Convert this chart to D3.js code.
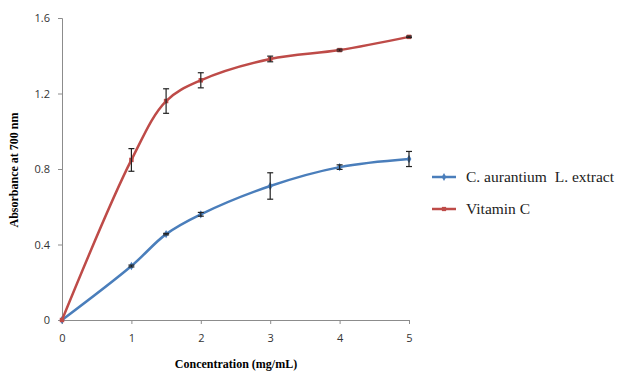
<!DOCTYPE html>
<html>
<head>
<meta charset="utf-8">
<script src="https://cdn.jsdelivr.net/npm/d3@7"></script>
<style>
  body { margin: 0; background: #fff; }
  svg { display: block; }
</style>
</head>
<body>
<svg id="chart" width="618" height="374"></svg>
<script>
// data
const concentrations = [0, 1, 1.5, 2, 3, 4, 5];
const extractValues = [0, 0.286, 0.455, 0.56, 0.71, 0.81, 0.853];
const extractErrors = [0, 0.005, 0.004, 0.01, 0.07, 0.012, 0.04];
const vitaminValues = [0, 0.848, 1.16, 1.27, 1.383, 1.43, 1.5];
const vitaminErrors = [0, 0.06, 0.065, 0.04, 0.015, 0.005, 0.004];
const xTicks = [0, 1, 2, 3, 4, 5];
const yTicks = [0, 0.4, 0.8, 1.2, 1.6];
const seriesNames = ["C. aurantium  L. extract", "Vitamin C"];

const svg = d3.select("#chart");
const margin = {top: 18, right: 209, bottom: 54, left: 62};
const w = 618 - margin.left - margin.right;
const h = 374 - margin.top - margin.bottom;

const x = d3.scaleLinear().domain([0, 5]).range([0, w]);
const y = d3.scaleLinear().domain([0, 1.6]).range([h, 0]);

const g = svg.append("g").attr("transform", `translate(${margin.left},${margin.top})`);

// axes
const axisColor = "#8c8c8c";
const yAxis = g.append("g")
  .call(d3.axisLeft(y).tickValues(yTicks).tickSize(4).tickPadding(8)
    .tickFormat(d => d === 0 ? "0" : d3.format(".1f")(d)));
const xAxis = g.append("g")
  .attr("transform", `translate(0,${h})`)
  .call(d3.axisBottom(x).tickValues(xTicks).tickSize(4).tickPadding(10).tickFormat(d3.format("d")));
[xAxis, yAxis].forEach(a => {
  a.select(".domain").attr("stroke", axisColor);
  a.selectAll(".tick line").attr("stroke", axisColor);
  a.selectAll("text").attr("fill", "#333").attr("font-family", "'Open Sans', sans-serif").attr("font-size", 11);
});

svg.append("text")
  .attr("transform", "translate(18,170) rotate(-90)")
  .attr("text-anchor", "middle")
  .attr("font-family", "'Liberation Serif', serif")
  .attr("font-weight", "bold")
  .attr("font-size", 12)
  .text("Absorbance at 700 nm");

svg.append("text")
  .attr("x", 236).attr("y", 368)
  .attr("text-anchor", "middle")
  .attr("font-family", "'Liberation Serif', serif")
  .attr("font-weight", "bold")
  .attr("font-size", 12)
  .text("Concentration (mg/mL)");

const series = [
  {name: seriesNames[0], values: extractValues, errors: extractErrors, color: "#4a7ebb", marker: d3.symbolDiamond},
  {name: seriesNames[1], values: vitaminValues, errors: vitaminErrors, color: "#be4b48", marker: d3.symbolSquare}
];

const line = d3.line()
  .x(d => x(d[0]))
  .y(d => y(d[1]))
  .curve(d3.curveCatmullRom.alpha(0.5));

series.forEach(s => {
  const pts = concentrations.map((c, i) => [c, s.values[i], s.errors[i]]);
  g.append("path")
    .datum(pts)
    .attr("fill", "none")
    .attr("stroke", s.color)
    .attr("stroke-width", 2.5)
    .attr("d", line);

  g.selectAll(null)
    .data(pts)
    .enter()
    .append("path")
    .attr("transform", d => `translate(${x(d[0])},${y(d[1])})`)
    .attr("d", d3.symbol().type(s.marker).size(20))
    .attr("fill", s.color);

  // error bars
  const eb = g.selectAll(null)
    .data(pts.filter(d => d[2] > 0))
    .enter()
    .append("g")
    .attr("stroke", "#222")
    .attr("stroke-width", 1.2);
  eb.append("line")
    .attr("x1", d => x(d[0])).attr("x2", d => x(d[0]))
    .attr("y1", d => y(d[1] - d[2])).attr("y2", d => y(d[1] + d[2]));
  eb.append("line")
    .attr("x1", d => x(d[0]) - 3).attr("x2", d => x(d[0]) + 3)
    .attr("y1", d => y(d[1] - d[2])).attr("y2", d => y(d[1] - d[2]));
  eb.append("line")
    .attr("x1", d => x(d[0]) - 3).attr("x2", d => x(d[0]) + 3)
    .attr("y1", d => y(d[1] + d[2])).attr("y2", d => y(d[1] + d[2]));
});

// legend
const legend = svg.append("g").attr("transform", "translate(432,177)");
series.forEach((s, i) => {
  const row = legend.append("g").attr("transform", `translate(0,${i * 32})`);
  row.append("line").attr("x1", 0).attr("x2", 24).attr("y1", 0).attr("y2", 0)
    .attr("stroke", s.color).attr("stroke-width", 2.5);
  row.append("path").attr("transform", "translate(12,0)")
    .attr("d", d3.symbol().type(s.marker).size(18)).attr("fill", s.color);
  row.append("text")
    .attr("x", 34).attr("y", 5)
    .attr("font-family", "'Liberation Serif', serif")
    .attr("font-size", 15.5)
    .attr("fill", "#222")
    .style("white-space", "pre")
    .text(s.name);
});
</script>
</body>
</html>
